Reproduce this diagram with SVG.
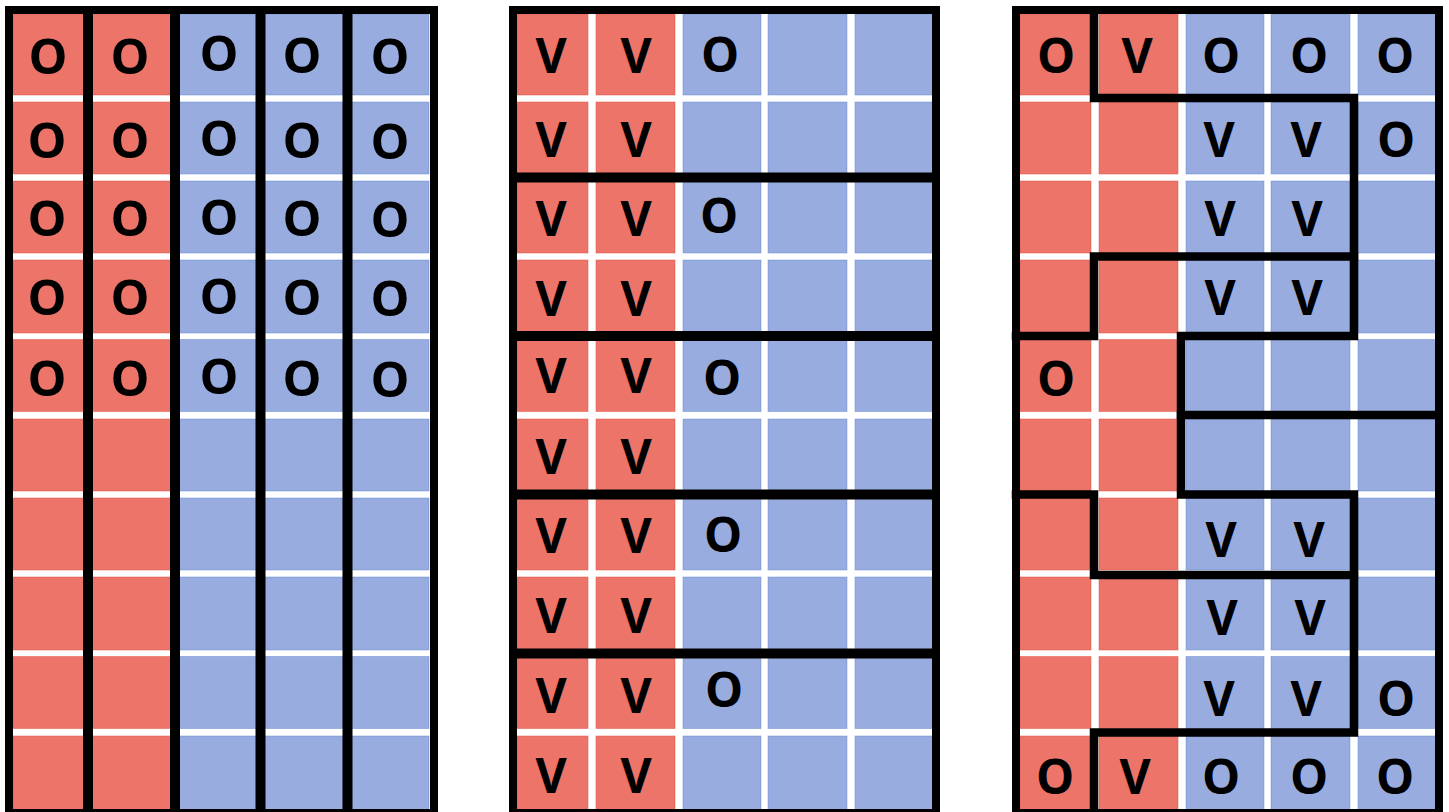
<svg xmlns="http://www.w3.org/2000/svg" xmlns:xlink="http://www.w3.org/1999/xlink" width="1449" height="812" viewBox="0 0 1449 812">
<style>
.red{fill:#ED7468;stroke:#E0554B;stroke-width:1;stroke-opacity:0.5}
.blue{fill:#99ACE0;stroke:#5B86CB;stroke-width:1;stroke-opacity:0.45}
.frame{fill:none;stroke:#000;stroke-width:8}
.div{fill:none;stroke:#000;stroke-width:10;stroke-linecap:butt}
.part{fill:none;stroke:#000;stroke-width:8.5;stroke-linecap:square;stroke-linejoin:miter}
text{font-family:"Open Sans","Liberation Sans",Arial,sans-serif;font-size:48px;text-anchor:middle;fill:#000}
.t1 text{font-weight:700;font-size:49px}
.t2 text{font-weight:700}
</style>
<defs>
<g id="col1">
<rect x="0" y="14" width="71" height="81"/><rect x="0" y="102" width="71" height="72"/><rect x="0" y="181" width="71" height="72"/><rect x="0" y="260" width="71" height="73"/><rect x="0" y="339.5" width="71" height="72"/><rect x="0" y="419" width="71" height="72"/><rect x="0" y="498" width="71" height="72"/><rect x="0" y="577" width="71" height="73"/><rect x="0" y="656.5" width="71" height="72"/><rect x="0" y="736" width="71" height="78"/>
</g>
<g id="col2">
<rect x="79" y="14" width="79" height="81"/><rect x="79" y="102" width="79" height="72"/><rect x="79" y="181" width="79" height="72"/><rect x="79" y="260" width="79" height="73"/><rect x="79" y="339.5" width="79" height="72"/><rect x="79" y="419" width="79" height="72"/><rect x="79" y="498" width="79" height="72"/><rect x="79" y="577" width="79" height="73"/><rect x="79" y="656.5" width="79" height="72"/><rect x="79" y="736" width="79" height="78"/>
</g>
<g id="col3">
<rect x="166" y="14" width="78" height="81"/><rect x="166" y="102" width="78" height="72"/><rect x="166" y="181" width="78" height="72"/><rect x="166" y="260" width="78" height="73"/><rect x="166" y="339.5" width="78" height="72"/><rect x="166" y="419" width="78" height="72"/><rect x="166" y="498" width="78" height="72"/><rect x="166" y="577" width="78" height="73"/><rect x="166" y="656.5" width="78" height="72"/><rect x="166" y="736" width="78" height="78"/>
</g>
<g id="col4">
<rect x="251" y="14" width="79" height="81"/><rect x="251" y="102" width="79" height="72"/><rect x="251" y="181" width="79" height="72"/><rect x="251" y="260" width="79" height="73"/><rect x="251" y="339.5" width="79" height="72"/><rect x="251" y="419" width="79" height="72"/><rect x="251" y="498" width="79" height="72"/><rect x="251" y="577" width="79" height="73"/><rect x="251" y="656.5" width="79" height="72"/><rect x="251" y="736" width="79" height="78"/>
</g>
<g id="col5">
<rect x="338" y="14" width="78" height="81"/><rect x="338" y="102" width="78" height="72"/><rect x="338" y="181" width="78" height="72"/><rect x="338" y="260" width="78" height="73"/><rect x="338" y="339.5" width="78" height="72"/><rect x="338" y="419" width="78" height="72"/><rect x="338" y="498" width="78" height="72"/><rect x="338" y="577" width="78" height="73"/><rect x="338" y="656.5" width="78" height="72"/><rect x="338" y="736" width="78" height="78"/>
</g>
</defs>
<rect x="0" y="0" width="1449" height="812" fill="#fff"/>

<g id="panel1">
<g transform="translate(13,0)">
<use xlink:href="#col1" class="red"/><use xlink:href="#col2" class="red"/><use xlink:href="#col3" class="blue"/><use xlink:href="#col4" class="blue"/><use xlink:href="#col5" class="blue"/>
</g>
<g class="t1">
<text x="48" y="74">O</text><text x="130" y="74">O</text><text x="219" y="71">O</text><text x="302" y="73">O</text><text x="390" y="74">O</text>
<text x="47" y="158">O</text><text x="130" y="158">O</text><text x="219" y="156">O</text><text x="302" y="158">O</text><text x="390" y="159">O</text>
<text x="47" y="236">O</text><text x="130" y="236">O</text><text x="219" y="235">O</text><text x="302" y="236">O</text><text x="390" y="237">O</text>
<text x="47" y="315">O</text><text x="130" y="315">O</text><text x="219" y="314">O</text><text x="302" y="315">O</text><text x="390" y="316">O</text>
<text x="47" y="396">O</text><text x="130" y="396">O</text><text x="219" y="394">O</text><text x="302" y="396">O</text><text x="390" y="397">O</text>
</g>
</g>

<g id="panel2">
<g transform="translate(517,0)">
<use xlink:href="#col1" class="red"/><use xlink:href="#col2" class="red"/><use xlink:href="#col3" class="blue"/><use xlink:href="#col4" class="blue"/><use xlink:href="#col5" class="blue"/>
</g>
<g class="t2">
<text x="551" y="73">V</text><text x="636" y="73">V</text><text x="720" y="72">O</text>
<text x="551" y="157">V</text><text x="636" y="157">V</text>
<text x="551" y="236">V</text><text x="636" y="236">V</text><text x="719" y="233">O</text>
<text x="551" y="316">V</text><text x="636" y="316">V</text>
<text x="551" y="393">V</text><text x="636" y="393">V</text><text x="722" y="395">O</text>
<text x="551" y="474">V</text><text x="636" y="474">V</text>
<text x="551" y="553">V</text><text x="636" y="553">V</text><text x="723" y="552">O</text>
<text x="551" y="633">V</text><text x="636" y="633">V</text>
<text x="551" y="713">V</text><text x="636" y="713">V</text><text x="724" y="707">O</text>
<text x="551" y="793">V</text><text x="636" y="793">V</text>
</g>
</g>

<g id="panel3">
<g transform="translate(1020,0)">
<use xlink:href="#col1" class="red"/><use xlink:href="#col2" class="red"/><use xlink:href="#col3" class="blue"/><use xlink:href="#col4" class="blue"/><use xlink:href="#col5" class="blue"/>
</g>
<g class="t2">
<text x="1056" y="73">O</text><text x="1137" y="73">V</text><text x="1221" y="73">O</text><text x="1309" y="73">O</text><text x="1395" y="73">O</text>
<text x="1219" y="157">V</text><text x="1306" y="157">V</text><text x="1396" y="157">O</text>
<text x="1220" y="236">V</text><text x="1307" y="236">V</text>
<text x="1220" y="315">V</text><text x="1307" y="315">V</text>
<text x="1056" y="396">O</text>
<text x="1221" y="557">V</text><text x="1309" y="557">V</text>
<text x="1222" y="635">V</text><text x="1310" y="635">V</text>
<text x="1219" y="716">V</text><text x="1306" y="716">V</text><text x="1396" y="716">O</text>
<text x="1055" y="794">O</text><text x="1135" y="794">V</text><text x="1221" y="794">O</text><text x="1309" y="794">O</text><text x="1395" y="794">O</text>
</g>
</g>

<g id="connectors">
<rect class="frame" x="9" y="10" width="425" height="803"/>
<rect class="frame" x="513" y="10" width="423" height="803"/>
<rect class="frame" x="1016" y="10" width="423" height="803"/>
<path class="div" d="M88,10V812M175,10V812M260.5,10V812M347.5,10V812"/>
<path class="div" d="M513,177.5H936M513,336H936M513,494.5H936M513,653.5H936"/>
<path class="part" d="M1094,14V98H1354V336H1181V494.5H1354V732.5H1094V812"/>
<path class="part" d="M1016,336H1094V256.5H1354"/>
<path class="part" d="M1181,415H1435"/>
<path class="part" d="M1016,494.5H1094V575H1354"/>
</g>
</svg>
